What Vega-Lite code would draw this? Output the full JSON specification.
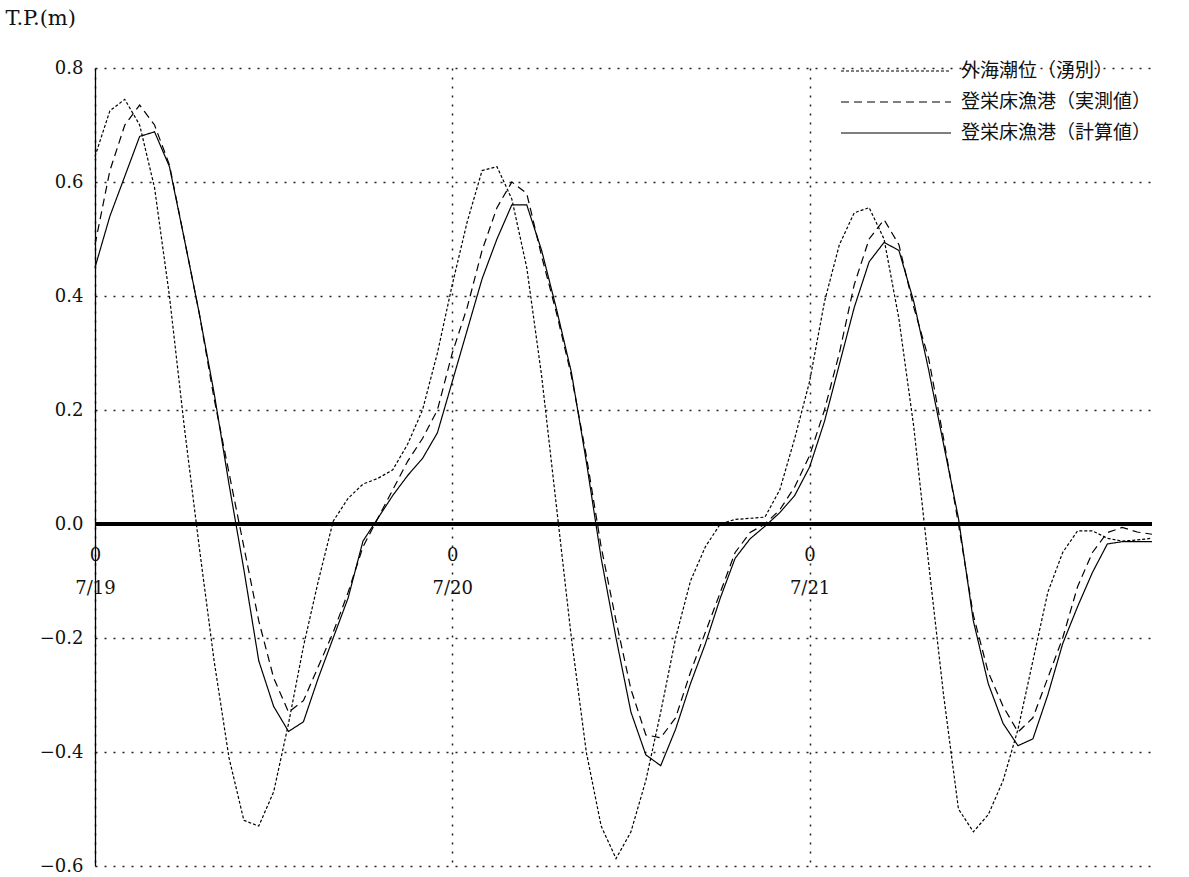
{
  "$schema": "https://vega.github.io/schema/vega-lite/v6.json",
  "autosize": {"type": "none"},
  "width": 1057,
  "height": 798,
  "padding": {"left": 95, "top": 68, "right": 37, "bottom": 11},
  "background": "white",
  "config": {"view": {"stroke": null}},
  "data": {"values": [
    {"h":0,"o":0.645,"m":0.49,"c":0.45},
    {"h":1,"o":0.725,"m":0.62,"c":0.54},
    {"h":2,"o":0.745,"m":0.70,"c":0.61},
    {"h":3,"o":0.70,"m":0.735,"c":0.68},
    {"h":4,"o":0.59,"m":0.70,"c":0.688},
    {"h":5,"o":0.40,"m":0.63,"c":0.627},
    {"h":6,"o":0.17,"m":0.50,"c":0.50},
    {"h":7,"o":-0.04,"m":0.37,"c":0.37},
    {"h":8,"o":-0.24,"m":0.22,"c":0.23},
    {"h":9,"o":-0.41,"m":0.09,"c":0.07},
    {"h":10,"o":-0.52,"m":-0.04,"c":-0.08},
    {"h":11,"o":-0.53,"m":-0.17,"c":-0.24},
    {"h":12,"o":-0.47,"m":-0.27,"c":-0.32},
    {"h":13,"o":-0.35,"m":-0.33,"c":-0.364},
    {"h":14,"o":-0.215,"m":-0.31,"c":-0.347},
    {"h":15,"o":-0.10,"m":-0.25,"c":-0.27},
    {"h":16,"o":0.005,"m":-0.19,"c":-0.20},
    {"h":17,"o":0.045,"m":-0.12,"c":-0.13},
    {"h":18,"o":0.07,"m":-0.04,"c":-0.03},
    {"h":19,"o":0.08,"m":0.01,"c":0.01},
    {"h":20,"o":0.095,"m":0.06,"c":0.05},
    {"h":21,"o":0.14,"m":0.11,"c":0.085},
    {"h":22,"o":0.20,"m":0.15,"c":0.115},
    {"h":23,"o":0.30,"m":0.20,"c":0.16},
    {"h":24,"o":0.42,"m":0.30,"c":0.25},
    {"h":25,"o":0.53,"m":0.38,"c":0.34},
    {"h":26,"o":0.62,"m":0.48,"c":0.43},
    {"h":27,"o":0.627,"m":0.555,"c":0.50},
    {"h":28,"o":0.57,"m":0.60,"c":0.56},
    {"h":29,"o":0.45,"m":0.58,"c":0.56},
    {"h":30,"o":0.26,"m":0.47,"c":0.48},
    {"h":31,"o":0.03,"m":0.37,"c":0.377},
    {"h":32,"o":-0.20,"m":0.26,"c":0.266},
    {"h":33,"o":-0.40,"m":0.12,"c":0.11},
    {"h":34,"o":-0.53,"m":-0.04,"c":-0.06},
    {"h":35,"o":-0.587,"m":-0.17,"c":-0.20},
    {"h":36,"o":-0.54,"m":-0.29,"c":-0.33},
    {"h":37,"o":-0.45,"m":-0.37,"c":-0.405},
    {"h":38,"o":-0.33,"m":-0.375,"c":-0.424},
    {"h":39,"o":-0.20,"m":-0.34,"c":-0.36},
    {"h":40,"o":-0.10,"m":-0.26,"c":-0.28},
    {"h":41,"o":-0.04,"m":-0.19,"c":-0.21},
    {"h":42,"o":0.00,"m":-0.12,"c":-0.13},
    {"h":43,"o":0.008,"m":-0.05,"c":-0.06},
    {"h":44,"o":0.01,"m":-0.015,"c":-0.026},
    {"h":45,"o":0.012,"m":0.00,"c":-0.004},
    {"h":46,"o":0.06,"m":0.025,"c":0.02},
    {"h":47,"o":0.15,"m":0.065,"c":0.05},
    {"h":48,"o":0.25,"m":0.12,"c":0.10},
    {"h":49,"o":0.39,"m":0.20,"c":0.18},
    {"h":50,"o":0.49,"m":0.30,"c":0.28},
    {"h":51,"o":0.546,"m":0.42,"c":0.38},
    {"h":52,"o":0.555,"m":0.50,"c":0.46},
    {"h":53,"o":0.50,"m":0.534,"c":0.494},
    {"h":54,"o":0.36,"m":0.49,"c":0.48},
    {"h":55,"o":0.17,"m":0.38,"c":0.39},
    {"h":56,"o":-0.07,"m":0.29,"c":0.27},
    {"h":57,"o":-0.30,"m":0.15,"c":0.14},
    {"h":58,"o":-0.50,"m":0.0,"c":0.01},
    {"h":59,"o":-0.54,"m":-0.16,"c":-0.17},
    {"h":60,"o":-0.51,"m":-0.26,"c":-0.28},
    {"h":61,"o":-0.45,"m":-0.32,"c":-0.35},
    {"h":62,"o":-0.36,"m":-0.365,"c":-0.389},
    {"h":63,"o":-0.24,"m":-0.34,"c":-0.377},
    {"h":64,"o":-0.12,"m":-0.27,"c":-0.30},
    {"h":65,"o":-0.05,"m":-0.20,"c":-0.21},
    {"h":66,"o":-0.012,"m":-0.11,"c":-0.145},
    {"h":67,"o":-0.012,"m":-0.05,"c":-0.085},
    {"h":68,"o":-0.025,"m":-0.015,"c":-0.035},
    {"h":69,"o":-0.03,"m":-0.006,"c":-0.031},
    {"h":70,"o":-0.028,"m":-0.014,"c":-0.031},
    {"h":71,"o":-0.025,"m":-0.018,"c":-0.031}
  ]},
  "layer": [
    {
      "transform": [{"fold": ["o", "m", "c"], "as": ["series", "value"]}],
      "mark": {"type": "line", "color": "black", "strokeCap": "butt"},
      "encoding": {
        "x": {
          "field": "h", "type": "quantitative",
          "scale": {"domain": [0, 71], "nice": false, "zero": false},
          "axis": {
            "values": [0, 24, 48],
            "title": null,
            "domain": false,
            "ticks": false,
            "grid": true,
            "gridDash": [2, 7],
            "gridColor": "#222",
            "gridWidth": 1.5,
            "offset": -341,
            "labelPadding": 21,
            "labelFlush": false,
            "labelAlign": "center",
            "labelFont": "DejaVu Serif",
            "labelFontSize": 18,
            "labelColor": "#111",
            "labelLineHeight": 33,
            "labelBaseline": "top",
            "labelExpr": "datum.value == 0 ? ['0', '7/19'] : datum.value == 24 ? ['0', '7/20'] : ['0', '7/21']"
          }
        },
        "y": {
          "field": "value", "type": "quantitative",
          "scale": {"domain": [-0.6, 0.8], "nice": false, "zero": false},
          "axis": {
            "values": [-0.6, -0.4, -0.2, 0, 0.2, 0.4, 0.6, 0.8],
            "format": ".1f",
            "domain": true,
            "domainColor": "black",
            "domainWidth": 1.3,
            "ticks": false,
            "grid": true,
            "gridDash": [2, 7],
            "gridColor": "#222",
            "gridWidth": 1.5,
            "labelPadding": 12,
            "labelFont": "DejaVu Serif",
            "labelFontSize": 18,
            "labelColor": "#111",
            "title": "T.P.(m)",
            "titleAngle": 0,
            "titleX": -90,
            "titleY": -50,
            "titleAlign": "left",
            "titleBaseline": "middle",
            "titleFont": "DejaVu Serif",
            "titleFontSize": 21,
            "titleFontWeight": "normal",
            "titleColor": "#111"
          }
        },
        "strokeDash": {
          "field": "series", "type": "nominal",
          "scale": {"domain": ["o", "m", "c"], "range": [[3, 2], [8, 5], [1, 0]]},
          "legend": {
            "title": null,
            "orient": "none",
            "legendX": 787,
            "legendY": -11,
            "symbolType": "M-5,0H5",
            "symbolSize": 484,
            "symbolStrokeColor": "black",
            "symbolStrokeWidth": 1.3,
            "labelFont": "Noto Sans CJK JP",
            "labelFontSize": 19,
            "labelColor": "#111",
            "labelOffset": 53,
            "labelLimit": 400,
            "rowPadding": 9,
            "padding": 2,
            "labelExpr": "datum.label == 'o' ? '外海潮位（湧別）' : datum.label == 'm' ? '登栄床漁港（実測値）' : '登栄床漁港（計算値）'"
          }
        },
        "strokeWidth": {
          "field": "series", "type": "nominal",
          "scale": {"domain": ["o", "m", "c"], "range": [1.2, 1.2, 1.3]},
          "legend": null
        }
      }
    },
    {
      "mark": {"type": "rule", "color": "black", "strokeWidth": 2.5},
      "encoding": {"y": {"datum": 0}}
    }
  ]
}
